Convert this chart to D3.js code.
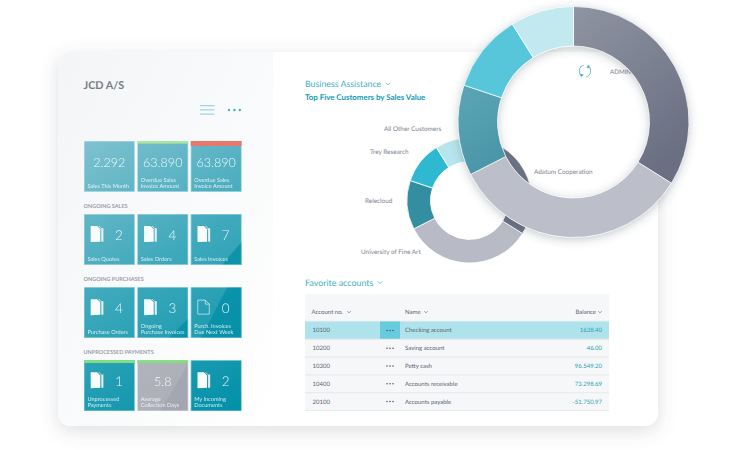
<!DOCTYPE html>
<html><head><meta charset="utf-8">
<script src="https://cdn.jsdelivr.net/npm/d3@7"></script>
<style>html,body{margin:0;padding:0;background:#fff}svg{display:block;font-family:Lato,"Open Sans",sans-serif;text-rendering:geometricPrecision}</style>
</head><body><div id="c"></div>
<script>
// ---- data ----
const customers = ["Adatum Cooperation","University of Fine Art","Relecloud","Trey Research","All Other Customers"];
const shares = [122,121,45.6,39.4,32];
const smallColors = ["#6d7486","#b8bbc6","#348ea2","#2fb9d0","#b7e5ed"];
const tileValues = ["2.292","63.890","63.890","2","4","7","4","3","0","1","5.8","2"];
const tileLabels = [["Sales This Month"],["Overdue Sales","Invoice Amount"],["Overdue Sales","Invoice Amount"],["Sales Quotes"],["Sales Orders"],["Sales Invoices"],["Purchase Orders"],["Ongoing","Purchase Invoices"],["Purch. Invoices","Due Next Week"],["Unprocessed","Payments"],["Average","Collection Days"],["My Incoming","Documents"]];
const tileIcons = [0,0,0,2,2,2,2,2,1,2,0,2];
const tileFlags = ["","good","bad","","","","","","","flag","flag",""];
const sections = ["ONGOING SALES","ONGOING PURCHASES","UNPROCESSED PAYMENTS"];
const accounts = ["10100","10200","10300","10400","20100"];
const names = ["Checking account","Saving account","Petty cash","Accounts receivable","Accounts payable"];
const balances = ["1638.40","46.00","96.549.20","73.298.69","-51.750.97"];
const columns = ["Account no.","Name","Balance"];

const W=740,H=450;
const svg=d3.select("#c").append("svg").attr("width",W).attr("height",H).attr("viewBox",[0,0,W,H]);
const defs=svg.append("defs");
function lin(id,x1,y1,x2,y2,stops,user){
  const g=defs.append("linearGradient").attr("id",id).attr("x1",x1).attr("y1",y1).attr("x2",x2).attr("y2",y2);
  if(user)g.attr("gradientUnits","userSpaceOnUse");
  stops.forEach(s=>g.append("stop").attr("offset",s[0]).attr("stop-color",s[1]));
}
lin("panel",0,0,1,1,[[0,"#f3f5f7"],[1,"#ffffff"]]);
lin("tile",84,141,241,411,[[0,"#7fc1cf"],[0.45,"#3fa9bc"],[1,"#0090a8"]],true);
lin("gray",0,0,1,1,[[0,"#b2b4bd"],[1,"#a9abb6"]]);
lin("seg0",0,0,0.6,1,[[0,"#8e94a1"],[1,"#6a7082"]]);
lin("seg2",0,0,0.4,1,[[0,"#5ba7b7"],[1,"#4a96a8"]]);
const f1=defs.append("filter").attr("id","cardShadow").attr("x","-10%").attr("y","-10%").attr("width","120%").attr("height","125%");
f1.append("feDropShadow").attr("dx",0).attr("dy",5).attr("stdDeviation",9).attr("flood-color","#5a6470").attr("flood-opacity",0.2);
const f2=defs.append("filter").attr("id","lensShadow").attr("x","-15%").attr("y","-15%").attr("width","130%").attr("height","130%");
f2.append("feDropShadow").attr("dx",0).attr("dy",2).attr("stdDeviation",5).attr("flood-color","#3a4450").attr("flood-opacity",0.3);
const ink="#5f6370",muted="#7e828e",accent="#45b1c3";

// card
svg.append("rect").attr("x",58).attr("y",52).attr("width",600).attr("height",374).attr("rx",13).attr("fill","#fff").attr("filter","url(#cardShadow)");
defs.append("clipPath").attr("id","cardClip").append("rect").attr("x",58).attr("y",52).attr("width",600).attr("height",374).attr("rx",13);
svg.append("rect").attr("x",58).attr("y",52).attr("width",215).attr("height",374).attr("fill","url(#panel)").attr("clip-path","url(#cardClip)");

// left header
svg.append("text").attr("x",83.5).attr("y",88.5).attr("font-size",10.8).attr("font-weight",700).attr("fill","#797c81").text("JCD A/S");
[0,1,2].forEach(i=>svg.append("line").attr("x1",200).attr("x2",214.5).attr("y1",105.7+i*4.2).attr("y2",105.7+i*4.2).attr("stroke","#7cc8d6").attr("stroke-width",.9));
[0,1,2].forEach(i=>svg.append("circle").attr("cx",229+i*5.4).attr("cy",110).attr("r",1.2).attr("fill",accent));

// tiles
const xCol=d3.scaleBand().domain([0,1,2]).range([84,241.5]).paddingInner(0.05);
const yRow=d3.scaleBand().domain([0,1,2,3]).range([141,411]).paddingInner(0.305);
const tw=xCol.bandwidth(),th=yRow.bandwidth();
const overlays={5:[[.62,1],[1,.55],[1,1]],7:[[.62,1],[1,.62],[1,1]],8:[[.2,1],[.72,0],[1,0],[1,1]],10:[[.45,1],[1,.08],[1,1]]};
tileValues.forEach((v,i)=>{
  const col=i%3,row=Math.floor(i/3);
  const isGray=i===10;
  svg.append("rect").attr("x",xCol(col)).attr("y",yRow(row)).attr("width",tw).attr("height",th).attr("fill",isGray?"url(#gray)":"url(#tile)");
  const g=svg.append("g").attr("transform",`translate(${xCol(col)},${yRow(row)})`);
  if(overlays[i]) g.append("polygon").attr("points",overlays[i].map(p=>[p[0]*tw,p[1]*th].join(",")).join(" ")).attr("fill",isGray?"#9ea0ac":"#008fa7").attr("opacity",isGray?.55:.75);
  g.append("rect").attr("x",.3).attr("y",.3).attr("width",tw-.6).attr("height",th-.6).attr("fill","none").attr("stroke","#fff").attr("stroke-opacity",.45).attr("stroke-width",.6);
  if(tileFlags[i]==="good") g.append("rect").attr("width",tw).attr("height",2.6).attr("fill","#a8e79c");
  if(tileFlags[i]==="bad") g.append("rect").attr("width",tw).attr("height",5).attr("fill","#e6786c");
  if(tileFlags[i]==="flag") g.append("rect").attr("y",0).attr("width",tw).attr("height",2.8).attr("fill","#7fe07c");
  const icon=tileIcons[i];
  if(icon===2){
    const ic=g.append("g").attr("transform","translate(6.7,12)");
    ic.append("path").attr("d","M0 0H6.4L9.6 3.2V15.6L0 16Z").attr("fill","#fff").attr("opacity",.97);
    ic.append("path").attr("d","M7.6 0L8.6 0L10.6 2.2H12.7V15.6L10.6 15.5V2.9Z").attr("fill","#fff").attr("opacity",.85);
  } else if(icon===1){
    const ic=g.append("g").attr("transform","translate(7,13)");
    ic.append("path").attr("d","M0 0H7.5L11.5 4V14H0Z M7.5 0V4H11.5").attr("fill","none").attr("stroke","#fff").attr("stroke-width",.7).attr("opacity",.85);
  }
  const big=icon===0;
  g.append("text").attr("x",big?tw/2:35).attr("y",25.5).attr("text-anchor","middle").attr("font-size",big?12.6:13.5).attr("font-weight",300).attr("fill","#fff").attr("opacity",.9).text(v);
  const lab=tileLabels[i];
  lab.forEach((t,k)=>g.append("text").attr("x",3.4).attr("y",th-(lab.length-k-1)*6.2-4).attr("font-size",5.6).attr("fill","#fff").attr("opacity",.82).text(t));
});
sections.forEach((s,i)=>svg.append("text").attr("x",83.5).attr("y",yRow(i+1)-6.5).attr("font-size",5.5).attr("font-weight",700).attr("fill","#9b9ea9").text(s));

// right headings
function chevron(x,y,c,s=2.2){svg.append("path").attr("d",`M${x-s} ${y-s/2}L${x} ${y+s/2}L${x+s} ${y-s/2}`).attr("fill","none").attr("stroke",c).attr("stroke-width",.8);}
svg.append("text").attr("x",305).attr("y",86.5).attr("font-size",8.8).attr("fill",accent).text("Business Assistance");
chevron(388,83.8,accent);
svg.append("text").attr("x",305).attr("y",100).attr("font-size",7.9).attr("font-weight",700).attr("fill","#129db3").text("Top Five Customers by Sales Value");
svg.append("text").attr("x",305).attr("y",285.5).attr("font-size",8.9).attr("fill",accent).text("Favorite accounts");
chevron(380,282.5,accent);

// refresh & ADMIN (seen through the ring)
const rg=svg.append("g").attr("transform","translate(585,71)");
const refreshArc=d3.arc().innerRadius(5.4).outerRadius(6.1);
rg.append("path").attr("d",refreshArc({startAngle:.5,endAngle:2.9})).attr("fill",accent);
rg.append("path").attr("d",refreshArc({startAngle:3.65,endAngle:6.05})).attr("fill",accent);
rg.append("path").attr("d","M4.2 -6.2L4.6 -2.6L1.2 -3.8Z").attr("fill",accent);
rg.append("path").attr("d","M-4.2 6.2L-4.6 2.6L-1.2 3.8Z").attr("fill",accent);
svg.append("text").attr("x",610).attr("y",73.5).attr("font-size",6.2).attr("fill",muted).text("ADMIN");

// small donut
const pie=d3.pie().sort(null).value(d=>d);
const arcsData=pie(shares);
const small=svg.append("g").attr("transform","translate(469.5,200.5)");
const smallArc=d3.arc().innerRadius(39).outerRadius(62.5);
small.selectAll("path").data(arcsData).join("path").attr("d",smallArc).attr("fill",(d,i)=>smallColors[i]).attr("stroke","#fff").attr("stroke-width",.8);
const labelPos=[[534,173.5],[361,253.5],[365,202.5],[370,153.5],[384,131]];
customers.forEach((c,i)=>svg.append("text").attr("x",labelPos[i][0]).attr("y",labelPos[i][1]).attr("font-size",6.4).attr("fill",muted).text(c));

// table
const tx0=305,tx1=609;
const yTable=d3.scaleBand().domain(d3.range(5)).range([321.5,410.5]);
const rh=yTable.bandwidth();
svg.append("rect").attr("x",tx0).attr("y",294).attr("width",tx1-tx0).attr("height",116.5).attr("fill","#f6f7f9");
svg.append("line").attr("x1",tx0).attr("x2",tx1).attr("y1",321.3).attr("y2",321.3).attr("stroke","#e2e4e9").attr("stroke-width",.7);
chevron(349,312,muted,1.7);chevron(426,312,muted,1.7);chevron(600,312,muted,1.7);
svg.append("text").attr("x",311.5).attr("y",314).attr("font-size",6).attr("fill",ink).text(columns[0]);
svg.append("text").attr("x",405).attr("y",314).attr("font-size",6).attr("fill",ink).text(columns[1]);
svg.append("text").attr("x",596).attr("y",314).attr("text-anchor","end").attr("font-size",6).attr("fill",ink).text(columns[2]);
accounts.forEach((a,i)=>{
  const y=yTable(i);
  if(i===0){
    svg.append("rect").attr("x",tx0).attr("y",y).attr("width",tx1-tx0).attr("height",rh-.5).attr("fill","#aee3ec");
    svg.append("rect").attr("x",380).attr("y",y).attr("width",20).attr("height",rh-.5).attr("fill","#66cbdc");
  }
  svg.append("line").attr("x1",tx0).attr("x2",tx1).attr("y1",y+rh).attr("y2",y+rh).attr("stroke","#dfe1e7").attr("stroke-width",.7);
  const cy=y+rh/2+2;
  svg.append("text").attr("x",312.5).attr("y",cy).attr("font-size",6).attr("fill",ink).text(a);
  [0,1,2].forEach(k=>svg.append("circle").attr("cx",387+k*3).attr("cy",y+rh/2).attr("r",.75).attr("fill","#444b58"));
  svg.append("text").attr("x",405).attr("y",cy).attr("font-size",6).attr("fill",ink).text(names[i]);
  svg.append("text").attr("x",602).attr("y",cy).attr("text-anchor","end").attr("font-size",6).attr("fill","#2e9fb3").text(balances[i]);
});

// magnifying ring
const lens=svg.append("g").attr("transform","translate(573.5,122)");
const lensArc=d3.arc().innerRadius(76).outerRadius(115.5);
const lensFills=["url(#seg0)","#bcbec9","url(#seg2)","#58c6da","#c3e9f0"];
const ringOnly=d3.arc().innerRadius(76).outerRadius(115.5)({startAngle:0,endAngle:2*Math.PI});
lens.append("path").attr("d",ringOnly).attr("fill","#fff").attr("filter","url(#lensShadow)");
lens.selectAll("path.s").data(arcsData).join("path").attr("class","s").attr("d",lensArc).attr("fill",(d,i)=>lensFills[i]).attr("stroke","#fff").attr("stroke-width",.7);
</script></body></html>
